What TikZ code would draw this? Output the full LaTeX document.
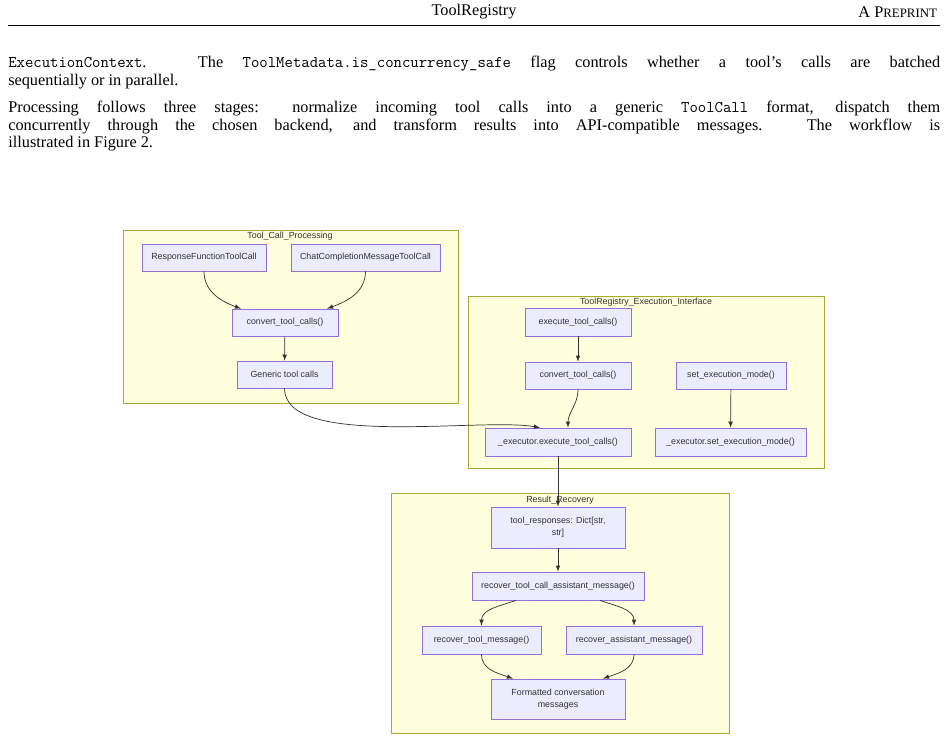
\documentclass[tikz,border=0pt]{standalone}
\usepackage{fontspec}
\setmainfont{Liberation Serif}
\setsansfont{Liberation Sans}
\usepackage{xcolor}
\definecolor{nodeFill}{HTML}{ECECFF}
\definecolor{nodeLine}{HTML}{9370DB}
\definecolor{clusterFill}{HTML}{FFFFDE}
\definecolor{clusterLine}{HTML}{AAAA33}
\definecolor{edgeGray}{HTML}{333333}
\begin{document}
\begin{tikzpicture}[x=0.7pt, y=-0.7pt,
    box/.style 2 args={draw=nodeLine, fill=nodeFill, line width=0.5pt, minimum width=#1*0.7pt, minimum height=#2*0.7pt, inner sep=1pt, font=\sffamily\fontsize{6.2}{8.5}\selectfont, text=black!80, align=center},
    cluster/.style={draw=clusterLine, fill=clusterFill, line width=0.5pt},
    ctitle/.style={font=\sffamily\fontsize{6.2}{7}\selectfont, text=black!80},
    bodytext/.style={anchor=north west, inner sep=0pt, text width=932*0.7pt, align=justify, font=\fontsize{11.4}{12.3}\selectfont},
    flow/.style={->, >=latex, draw=edgeGray, line width=0.5pt}]
\useasboundingbox (0,0) rectangle (948,739);

% page header
\node[font=\fontsize{11.4}{12}\selectfont] (head) at (474,12) {ToolRegistry};
\node[anchor=east, font=\fontsize{11.4}{12}\selectfont] (prep) at (942,12) {A P{\fontsize{9}{10}\selectfont REPRINT}};
\draw[line width=0.4pt] (8,25) -- (940,25);

% body text
\node[bodytext] (para1) at (8,56)
  {\texttt{ExecutionContext}. The \texttt{ToolMetadata.is\_concurrency\_safe} flag controls whether a tool's calls are batched\linebreak sequentially or in parallel.};
\node[bodytext] (para2) at (8,101)
  {Processing follows three stages: normalize incoming tool calls into a generic \texttt{ToolCall} format, dispatch them\linebreak concurrently through the chosen backend, and transform results into API-compatible messages. The workflow is\linebreak illustrated in Figure 2.};

% clusters
\draw[cluster] (123,230) rectangle (458,403);
\node[ctitle] (t1) at (290,236) {Tool\_Call\_Processing};
\draw[cluster] (468,296) rectangle (824,468);
\node[ctitle] (t2) at (646,302) {ToolRegistry\_Execution\_Interface};
\draw[cluster] (391,493) rectangle (729,733);
\node[ctitle] (t3) at (560,500) {Result\_Recovery};

% Tool_Call_Processing
\node[box={124}{27}] (rftc) at (204,257.5) {ResponseFunctionToolCall};
\node[box={149}{27}] (ccmtc) at (365.5,257.5) {ChatCompletionMessageToolCall};
\node[box={106}{27}] (conv1) at (285,322.5) {convert\_tool\_calls()};
\node[box={95}{27}] (generic) at (284.5,374.5) {Generic tool calls};

% execution interface
\node[box={106}{28}] (exec) at (578,322) {execute\_tool\_calls()};
\node[box={106}{27}] (conv2) at (578,375.5) {convert\_tool\_calls()};
\node[box={110}{27}] (setmode) at (731,375.5) {set\_execution\_mode()};
\node[box={146}{28}] (xexec) at (558,442) {\_executor.execute\_tool\_calls()};
\node[box={151}{28}] (xset) at (730.5,442) {\_executor.set\_execution\_mode()};

% result recovery
\node[box={134}{41}] (resp) at (558,527.5) {tool\_responses: Dict[str,\\str]};
\node[box={172}{28}] (rtcam) at (558,586) {recover\_tool\_call\_assistant\_message()};
\node[box={119}{28}] (rtm) at (481.5,640) {recover\_tool\_message()};
\node[box={136}{28}] (ram) at (634,640) {recover\_assistant\_message()};
\node[box={134}{40}] (fmt) at (558,699) {Formatted conversation\\messages};

% connectors
\draw[flow] (rftc.south) to[out=-90, in=160] ([xshift=-44*0.7pt]conv1.north);
\draw[flow] (ccmtc.south) to[out=-90, in=20] ([xshift=42*0.7pt]conv1.north);
\draw[flow] (conv1) -- (generic);
\draw[flow] (generic.south) to[out=-90, in=170, looseness=0.6] ([xshift=-18*0.7pt]xexec.north);
\draw[flow] (exec) -- (conv2);
\draw[flow] (conv2.south) to[out=-90, in=90] ([xshift=10*0.7pt]xexec.north);
\draw[flow] (setmode) -- (xset);
\draw[flow] (xexec) -- (resp);
\draw[flow] (resp) -- (rtcam);
\draw[flow] ([xshift=-42*0.7pt]rtcam.south) to[out=-160, in=90] (rtm.north);
\draw[flow] ([xshift=42*0.7pt]rtcam.south) to[out=-20, in=90] (ram.north);
\draw[flow] (rtm.south) to[out=-90, in=160] ([xshift=-45*0.7pt]fmt.north);
\draw[flow] (ram.south) to[out=-90, in=20] ([xshift=45*0.7pt]fmt.north);
\end{tikzpicture}
\end{document}
